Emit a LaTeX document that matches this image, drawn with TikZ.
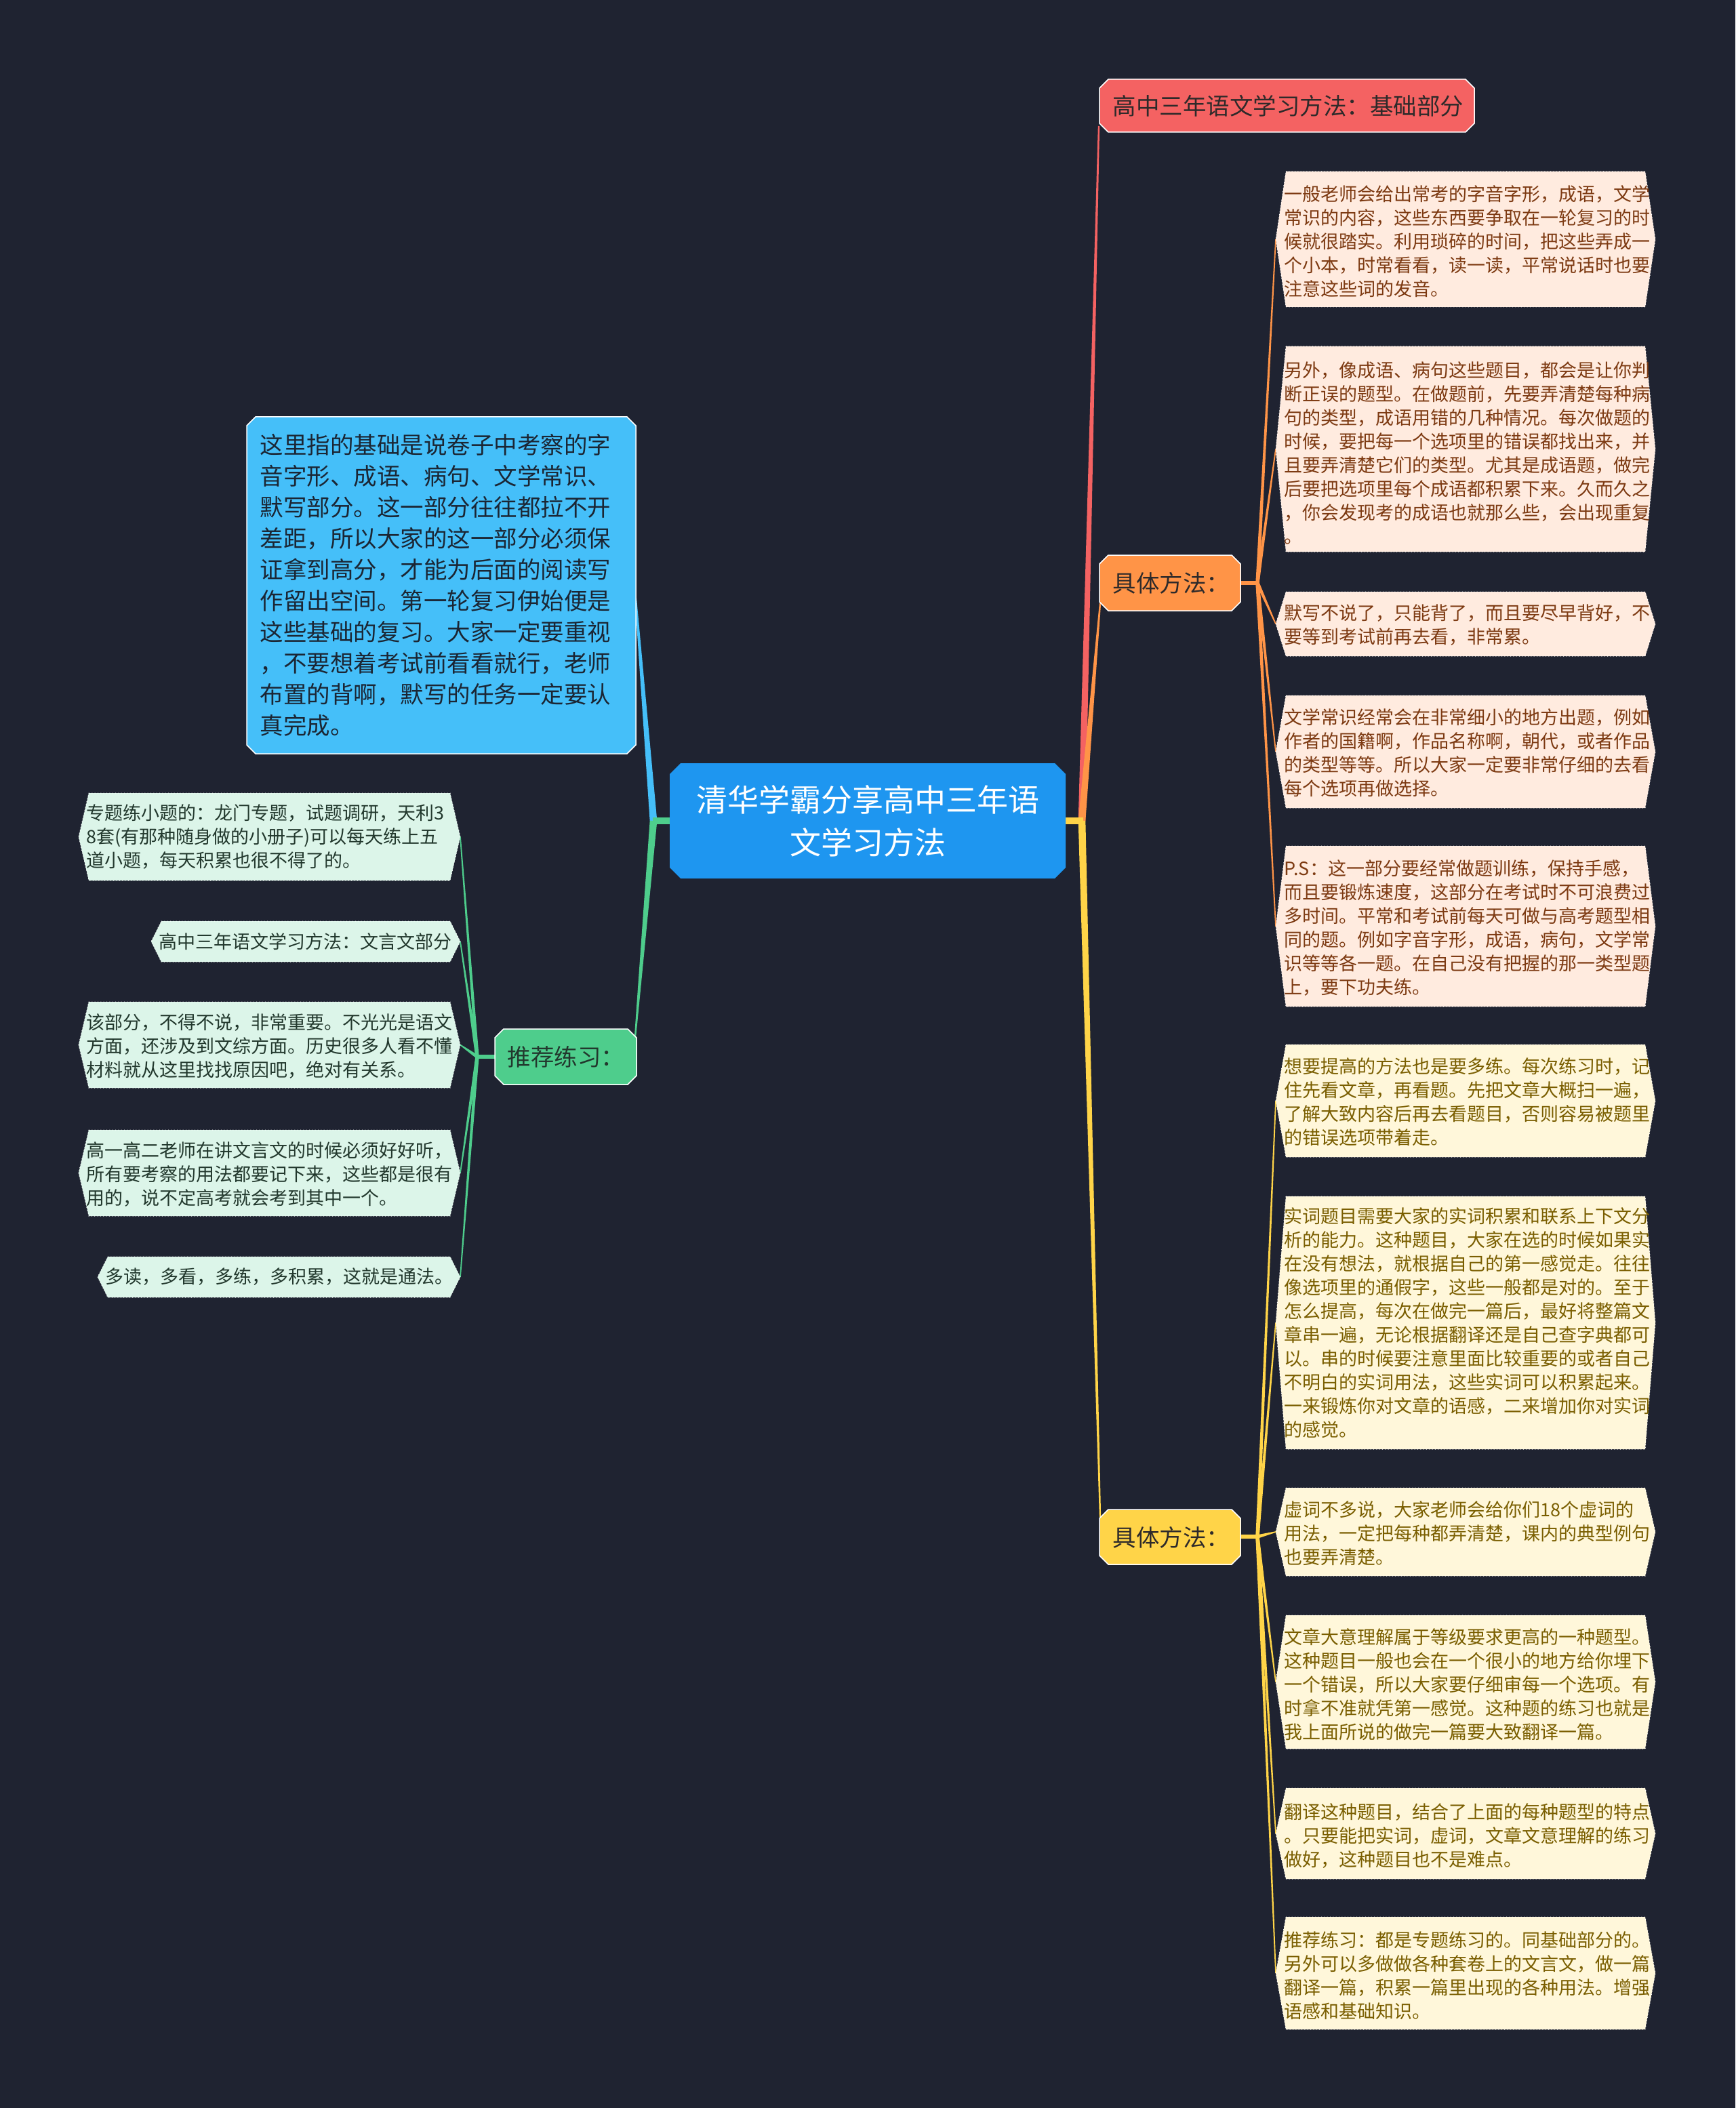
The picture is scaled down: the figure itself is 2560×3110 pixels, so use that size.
\documentclass[tikz,border=0pt]{standalone}
\usepackage{fontspec}
\newfontfamily\cjk{Noto Sans CJK SC}
\usetikzlibrary{calc}
\pgfdeclarelayer{bg}
\pgfsetlayers{bg,main}
\definecolor{bgc}{HTML}{1F2331}
\definecolor{rootc}{HTML}{1E96F0}
\definecolor{redc}{HTML}{F46262}
\definecolor{orc}{HTML}{FF9447}
\definecolor{yelc}{HTML}{FFD448}
\definecolor{bluc}{HTML}{45BFF9}
\definecolor{grnc}{HTML}{4ECD8C}
\definecolor{ofill}{HTML}{FFEBDF}
\definecolor{otext}{HTML}{7D3A12}
\definecolor{yfill}{HTML}{FFF7DA}
\definecolor{ytext}{HTML}{7A5E00}
\definecolor{gfill}{HTML}{DCF5E9}
\definecolor{gtext}{HTML}{22382D}
\definecolor{darktxt}{HTML}{2E2A2A}
\definecolor{blutxt}{HTML}{1B2634}
% octagon: x1 x2 y1 y2 chamfer style
\newcommand\mainbox[6]{\path[#6] ({#1+#5},#3) -- ({#2-#5},#3) -- (#2,{#3+#5}) -- (#2,{#4-#5}) -- ({#2-#5},#4) -- ({#1+#5},#4) -- (#1,{#4-#5}) -- (#1,{#3+#5}) -- cycle;}
% leaf hexagon: name x1 x2 y1 y2 style ; defines coordinates name-w and name-e
\newcommand\leafshape[6]{\path[#6] ({#2+15},#4) -- ({#3-15},#4) -- (#3,{(#4+#5)/2}) -- ({#3-15},#5) -- ({#2+15},#5) -- (#2,{(#4+#5)/2}) -- cycle;
\coordinate (#1-w) at (#2,{(#4+#5)/2});
\coordinate (#1-e) at (#3,{(#4+#5)/2});}
% tapered connector: from to startwidth endwidth color
\newcommand\taper[5]{\fill[#5] ($(#1)!#3!90:(#2)$) -- ($(#2)!#4!-90:(#1)$) -- ($(#2)!#4!90:(#1)$) -- ($(#1)!#3!-90:(#2)$) -- cycle;}
\tikzset{
  leaftxt/.style={inner sep=0pt, align=left, anchor=west, font=\cjk\fontsize{8.1pt}{10.5pt}\selectfont},
  otxt/.style={leaftxt, text=otext},
  ytxt/.style={leaftxt, text=ytext},
  gtxt/.style={leaftxt, text=gtext},
  maintxt/.style={inner sep=0pt, anchor=west, font=\cjk\fontsize{10.35pt}{13.8pt}\selectfont},
  roottxt/.style={inner sep=0pt, align=center, text=white, font=\cjk\fontsize{13.8pt}{18.9pt}\selectfont},
  boxborder/.style={draw=white, line width=0.45pt},
  leafborder/.style={draw=white, densely dotted, line width=0.3pt},
}
\begin{document}
\begin{tikzpicture}[x=0.3pt,y=-0.3pt]
\useasboundingbox (0,0) rectangle (2560,3110);
\begin{pgfonlayer}{bg}
\fill[bgc] (0,0) rectangle (2560,3110);
\end{pgfonlayer}

% ---------- main nodes ----------
\mainbox{988}{1572}{1126}{1296}{16}{fill=rootc}
\node[roottxt] (root) at (1280,1211) {清华学霸分享高中三年语\\文学习方法};

\mainbox{1622}{2175}{117}{195}{13}{fill=redc, boxborder}
\node[maintxt, text=darktxt] (red) at (1641,156) {高中三年语文学习方法：基础部分};

\mainbox{1622}{1830}{819}{901}{13}{fill=orc, boxborder}
\node[maintxt, text=darktxt] (orn) at (1641,860) {具体方法：};

\mainbox{1622}{1830}{2227}{2308}{13}{fill=yelc, boxborder}
\node[maintxt, text=darktxt] (yen) at (1641,2268) {具体方法：};

\mainbox{364}{938}{615}{1112}{13}{fill=bluc, boxborder}
\node[maintxt, align=left, text=blutxt] (blu) at (383,863) {这里指的基础是说卷子中考察的字\\音字形、成语、病句、文学常识、\\默写部分。这一部分往往都拉不开\\差距，所以大家的这一部分必须保\\证拿到高分，才能为后面的阅读写\\作留出空间。第一轮复习伊始便是\\这些基础的复习。大家一定要重视\\，不要想着考试前看看就行，老师\\布置的背啊，默写的任务一定要认\\真完成。};

\mainbox{730}{939}{1518}{1600}{13}{fill=grnc, boxborder}
\node[maintxt, text=gtext] (grn) at (748,1559) {推荐练习：};

% ---------- orange leaves ----------
\leafshape{o1}{1882}{2442}{253}{453}{fill=ofill, leafborder}
\node[otxt] (o1t) at (1894,356) {一般老师会给出常考的字音字形，成语，文学\\常识的内容，这些东西要争取在一轮复习的时\\候就很踏实。利用琐碎的时间，把这些弄成一\\个小本，时常看看，读一读，平常说话时也要\\注意这些词的发音。};

\leafshape{o2}{1882}{2442}{511}{814}{fill=ofill, leafborder}
\node[otxt] (o2t) at (1894,668) {另外，像成语、病句这些题目，都会是让你判\\断正误的题型。在做题前，先要弄清楚每种病\\句的类型，成语用错的几种情况。每次做题的\\时候，要把每一个选项里的错误都找出来，并\\且要弄清楚它们的类型。尤其是成语题，做完\\后要把选项里每个成语都积累下来。久而久之\\，你会发现考的成语也就那么些，会出现重复\\。};

\leafshape{o3}{1882}{2442}{873}{968}{fill=ofill, leafborder}
\node[otxt] (o3t) at (1894,922) {默写不说了，只能背了，而且要尽早背好，不\\要等到考试前再去看，非常累。};

\leafshape{o4}{1882}{2442}{1026}{1192}{fill=ofill, leafborder}
\node[otxt] (o4t) at (1894,1111) {文学常识经常会在非常细小的地方出题，例如\\作者的国籍啊，作品名称啊，朝代，或者作品\\的类型等等。所以大家一定要非常仔细的去看\\每个选项再做选择。};

\leafshape{o5}{1882}{2442}{1248}{1485}{fill=ofill, leafborder}
\node[otxt] (o5t) at (1894,1369) {P.S：这一部分要经常做题训练，保持手感，\\而且要锻炼速度，这部分在考试时不可浪费过\\多时间。平常和考试前每天可做与高考题型相\\同的题。例如字音字形，成语，病句，文学常\\识等等各一题。在自己没有把握的那一类型题\\上，要下功夫练。};

% ---------- yellow leaves ----------
\leafshape{y1}{1882}{2442}{1541}{1707}{fill=yfill, leafborder}
\node[ytxt] (y1t) at (1894,1626) {想要提高的方法也是要多练。每次练习时，记\\住先看文章，再看题。先把文章大概扫一遍，\\了解大致内容后再去看题目，否则容易被题里\\的错误选项带着走。};

\leafshape{y2}{1882}{2442}{1765}{2138}{fill=yfill, leafborder}
\node[ytxt] (y2t) at (1894,1952) {实词题目需要大家的实词积累和联系上下文分\\析的能力。这种题目，大家在选的时候如果实\\在没有想法，就根据自己的第一感觉走。往往\\像选项里的通假字，这些一般都是对的。至于\\怎么提高，每次在做完一篇后，最好将整篇文\\章串一遍，无论根据翻译还是自己查字典都可\\以。串的时候要注意里面比较重要的或者自己\\不明白的实词用法，这些实词可以积累起来。\\一来锻炼你对文章的语感，二来增加你对实词\\的感觉。};

\leafshape{y3}{1882}{2442}{2195}{2325}{fill=yfill, leafborder}
\node[ytxt] (y3t) at (1894,2262) {虚词不多说，大家老师会给你们18个虚词的\\用法，一定把每种都弄清楚，课内的典型例句\\也要弄清楚。};

\leafshape{y4}{1882}{2442}{2383}{2580}{fill=yfill, leafborder}
\node[ytxt] (y4t) at (1894,2485) {文章大意理解属于等级要求更高的一种题型。\\这种题目一般也会在一个很小的地方给你埋下\\一个错误，所以大家要仔细审每一个选项。有\\时拿不准就凭第一感觉。这种题的练习也就是\\我上面所说的做完一篇要大致翻译一篇。};

\leafshape{y5}{1882}{2442}{2638}{2772}{fill=yfill, leafborder}
\node[ytxt] (y5t) at (1894,2708) {翻译这种题目，结合了上面的每种题型的特点\\。只要能把实词，虚词，文章文意理解的练习\\做好，这种题目也不是难点。};

\leafshape{y6}{1882}{2442}{2828}{2994}{fill=yfill, leafborder}
\node[ytxt] (y6t) at (1894,2915) {推荐练习：都是专题练习的。同基础部分的。\\另外可以多做做各种套卷上的文言文，做一篇\\翻译一篇，积累一篇里出现的各种用法。增强\\语感和基础知识。};

% ---------- green leaves ----------
\leafshape{g1}{116}{679}{1170}{1299}{fill=gfill, leafborder}
\node[gtxt] (g1t) at (127,1235) {专题练小题的：龙门专题，试题调研，天利3\\8套(有那种随身做的小册子)可以每天练上五\\道小题，每天积累也很不得了的。};

\leafshape{g2}{223}{679}{1359}{1419}{fill=gfill, leafborder}
\node[gtxt, anchor=east] (g2t) at (667,1389) {高中三年语文学习方法：文言文部分};

\leafshape{g3}{116}{679}{1478}{1605}{fill=gfill, leafborder}
\node[gtxt] (g3t) at (127,1543) {该部分，不得不说，非常重要。不光光是语文\\方面，还涉及到文综方面。历史很多人看不懂\\材料就从这里找找原因吧，绝对有关系。};

\leafshape{g4}{116}{679}{1667}{1794}{fill=gfill, leafborder}
\node[gtxt] (g4t) at (127,1732) {高一高二老师在讲文言文的时候必须好好听，\\所有要考察的用法都要记下来，这些都是很有\\用的，说不定高考就会考到其中一个。};

\leafshape{g5}{144}{679}{1854}{1914}{fill=gfill, leafborder}
\node[gtxt] (g5t) at (155,1884) {多读，多看，多练，多积累，这就是通法。};

% ---------- connector anchor coordinates ----------
\coordinate (rR) at (1572,1211);
\coordinate (rRs) at (1596,1211);
\coordinate (rL) at (988,1211);
\coordinate (rLs) at (964,1211);
\coordinate (redA) at (1621,186);
\coordinate (orA) at (1623,890);
\coordinate (yelA) at (1623,2238);
\coordinate (bluA) at (937,873);
\coordinate (grnA) at (937,1530);
\coordinate (orR) at (1829,860);
\coordinate (orS) at (1855,860);
\coordinate (yeR) at (1829,2267);
\coordinate (yeS) at (1855,2267);
\coordinate (grL) at (731,1559);
\coordinate (grS) at (704,1559);

\begin{pgfonlayer}{bg}
% main branches
\taper{rRs}{redA}{1.6pt}{0.35pt}{redc}
\taper{rRs}{orA}{1.6pt}{0.35pt}{orc}
\taper{rRs}{yelA}{1.6pt}{0.35pt}{yelc}
\draw[yelc, line width=3pt] (rR) -- ([xshift=0.45pt]rRs);
\taper{rLs}{bluA}{1.6pt}{0.35pt}{bluc}
\taper{rLs}{grnA}{1.6pt}{0.35pt}{grnc}
\draw[grnc, line width=3pt] (rL) -- ([xshift=-0.45pt]rLs);
% orange leaves
\draw[orc, line width=2pt] (orR) -- ([xshift=0.3pt]orS);
\foreach \n in {o1,o2,o3,o4,o5}{\taper{orS}{\n-w}{0.8pt}{0.25pt}{orc}}
% yellow leaves
\draw[yelc, line width=2pt] (yeR) -- ([xshift=0.3pt]yeS);
\foreach \n in {y1,y2,y3,y4,y5,y6}{\taper{yeS}{\n-w}{0.8pt}{0.25pt}{yelc}}
% green leaves
\draw[grnc, line width=2pt] (grL) -- ([xshift=-0.3pt]grS);
\foreach \n in {g1,g2,g3,g4,g5}{\taper{grS}{\n-e}{0.8pt}{0.25pt}{grnc}}
\end{pgfonlayer}
\end{tikzpicture}
\end{document}
